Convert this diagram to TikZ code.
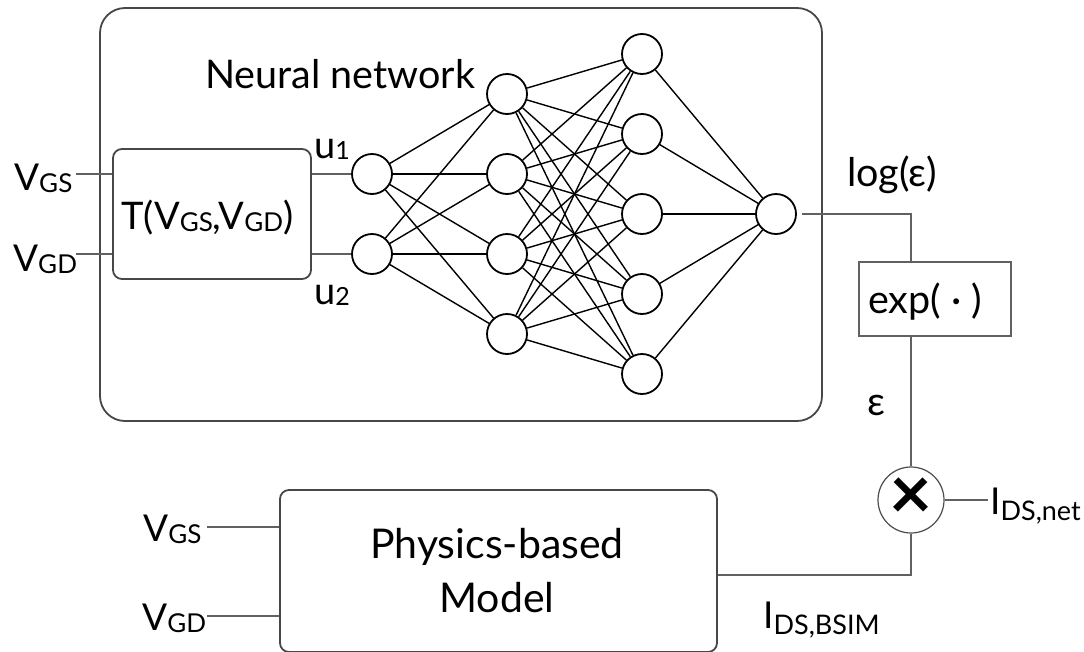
\documentclass[tikz,border=0pt]{standalone}
\usepackage{fontspec}
\setmainfont{Lato}
\newcommand\vsub[1]{\raisebox{-2.5pt}{\fontsize{26}{26}\selectfont #1}}
\newcommand\isub[1]{\raisebox{-6pt}{\fontsize{27}{27}\selectfont #1}}
\newcommand\usub[1]{\raisebox{-1pt}{\fontsize{25}{25}\selectfont #1}}
\begin{document}
\begin{tikzpicture}[x=1pt,y=-1pt,
  neuron/.style={circle,draw=black,line width=1.8pt,fill=white,minimum size=40pt,inner sep=0pt},
  edge/.style={draw=black,line width=1.4pt},
  wire/.style={draw=black!62,line width=1.6pt},
  frame/.style={draw=black!72,line width=1.8pt},
  lbl/.style={inner sep=0pt,anchor=base west,font=\fontsize{37}{37}\selectfont},
  biglbl/.style={inner sep=0pt,anchor=base west,font=\fontsize{39.5}{39.5}\selectfont},
]
\useasboundingbox (0,0) rectangle (1084,651);
\fill[white] (0,0) rectangle (1084,651);

% boxes
\node[frame,rounded corners=25pt,minimum width=722pt,minimum height=413pt,inner sep=0pt] (nnbox) at (461,214.5) {};
\node[frame,rounded corners=9pt,minimum width=198pt,minimum height=130pt,inner sep=0pt] (tbox) at (212,214) {};
\node[wire,minimum width=152pt,minimum height=74pt,inner sep=0pt] (expbox) at (935,299) {};
\node[frame,rounded corners=9pt,minimum width=437pt,minimum height=162pt,inner sep=0pt] (phys) at (498.5,571) {};
\node[circle,draw=black!70,line width=1.2pt,fill=white,minimum size=66pt,inner sep=0pt] (mul) at (911,500) {};
\node[inner sep=0pt,font=\fontsize{74}{74}\selectfont\bfseries] (times) at ([yshift=1pt]mul.center) {×};

% neurons
\node[neuron] (i1) at (372,174) {};
\node[neuron] (i2) at (372,254) {};
\foreach \k/\yy in {1/94,2/174,3/254,4/334} \node[neuron] (a\k) at (507,\yy) {};
\foreach \k/\yy in {1/54,2/134,3/214,4/294,5/374} \node[neuron] (b\k) at (642,\yy) {};
\node[neuron] (o) at (776,214) {};

\foreach \i in {1,2} \foreach \j in {1,...,4} \draw[edge] (i\i) -- (a\j);
\foreach \i in {1,...,4} \foreach \j in {1,...,5} \draw[edge] (a\i) -- (b\j);
\foreach \j in {1,...,5} \draw[edge] (b\j) -- (o);

% wires
\coordinate (vgsA) at (76,174);
\coordinate (vgdA) at (76,254);
\draw[wire] (vgsA) -- (vgsA -| tbox.west);
\draw[wire] (vgdA) -- (vgdA -| tbox.west);
\draw[wire] (i1 -| tbox.east) -- (i1);
\draw[wire] (i2 -| tbox.east) -- (i2);
\draw[wire] ([xshift=5pt]o.east) -- (o -| mul) -- (mul |- expbox.north);
\draw[wire] (mul |- expbox.south) -- (mul.north);
\coordinate (pb) at (911,575);
\draw[wire] (pb -| phys.east) -- (pb) -- (mul.south);
\coordinate (netend) at (988,500);
\draw[wire] (mul.east) -- (netend);
\coordinate (vgsB) at (207,527);
\coordinate (vgdB) at (207,616);
\draw[wire] (vgsB) -- (vgsB -| phys.west);
\draw[wire] (vgdB) -- (vgdB -| phys.west);

% labels
\node[lbl] (lvgsA) at (14,190) {V\vsub{GS}};
\node[lbl] (lvgdA) at (13,271) {V\vsub{GD}};
\node[lbl,font=\fontsize{38}{38}\selectfont] (lt) at (121,229) {T(V\vsub{GS},V\vsub{GD})};
\node[lbl,font=\fontsize{38}{38}\selectfont] (lu1) at (314,158) {u\usub{1}};
\node[lbl,font=\fontsize{38}{38}\selectfont] (lu2) at (314,304) {u\usub{2}};
\node[biglbl] (lnn) at (205,88) {Neural network};
\node[biglbl] (llog) at (847,186) {log(ε)};
\node[biglbl] (lexp) at (868,313) {exp( · )};
\node[biglbl] (leps) at (867,415) {ε};
\node[lbl] (lnet) at (990,514) {I\isub{DS,net}};
\node[lbl] (lbsim) at (763,628) {I\isub{DS,BSIM}};
\node[lbl] (lvgsB) at (143,541) {V\vsub{GS}};
\node[lbl] (lvgdB) at (142,630) {V\vsub{GD}};
\node[inner sep=0pt,anchor=base,font=\fontsize{41}{41}\selectfont] (lph1) at (497,558) {Physics-based};
\node[inner sep=0pt,anchor=base,font=\fontsize{41}{41}\selectfont] (lph2) at (497,612) {Model};
\end{tikzpicture}
\end{document}
